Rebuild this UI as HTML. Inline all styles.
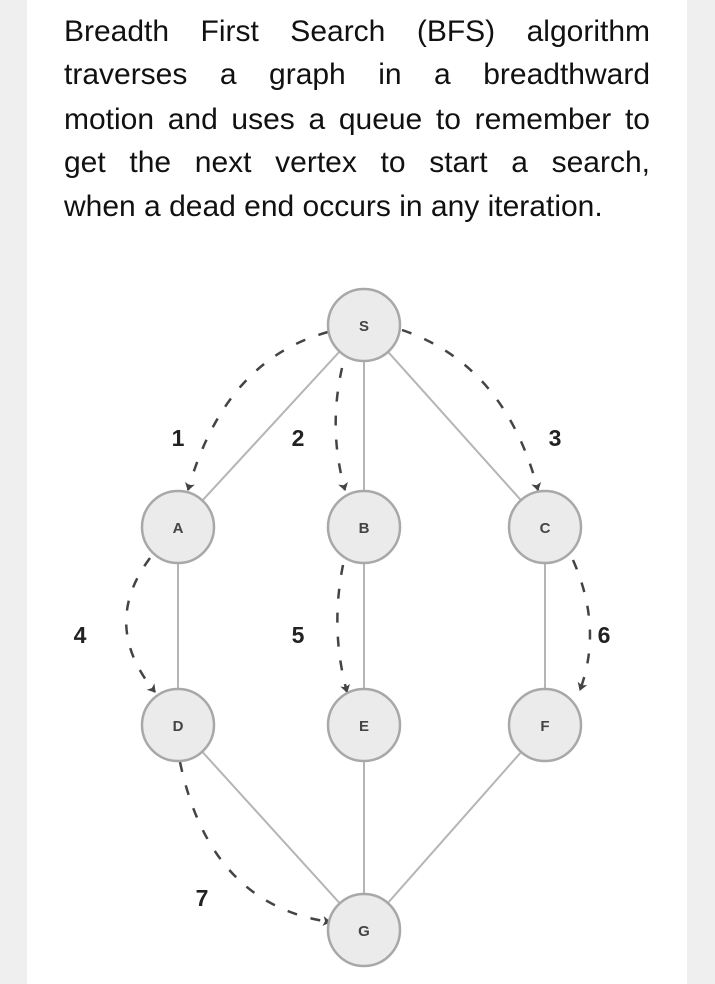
<!DOCTYPE html>
<html><head><style>
html,body{margin:0;padding:0;background:#efefef;}
.pg{position:absolute;left:27px;top:0;width:660px;height:984px;background:#fff}
.ln{position:absolute;left:64px;width:586px;font-family:"Liberation Sans",sans-serif;font-size:30px;color:#111;white-space:nowrap;text-align:justify;text-align-last:justify;line-height:36px}
svg{position:absolute;left:0;top:0}
</style></head><body>
<div class="pg"></div>
<div class="ln" style="top:14px">Breadth First Search (BFS) algorithm</div>
<div class="ln" style="top:57px">traverses a graph in a breadthward</div>
<div class="ln" style="top:102px">motion and uses a queue to remember to</div>
<div class="ln" style="top:145px">get the next vertex to start a search,</div>
<div class="ln" style="top:189px;text-align-last:left">when a dead end occurs in any iteration.</div>
<svg width="715" height="984" viewBox="0 0 715 984" xmlns="http://www.w3.org/2000/svg">
<defs>
<marker id="ar" markerWidth="10" markerHeight="10" refX="7" refY="5" orient="auto" markerUnits="userSpaceOnUse">
<path d="M0,0 L8,5 L0,10 L2,5 z" fill="#444"/>
</marker>
</defs>
<g stroke="#b5b5b5" stroke-width="2" fill="none">
<line x1="364" y1="325" x2="178" y2="527"/>
<line x1="364" y1="325" x2="364" y2="527"/>
<line x1="364" y1="325" x2="545" y2="527"/>
<line x1="178" y1="527" x2="178" y2="725"/>
<line x1="364" y1="527" x2="364" y2="725"/>
<line x1="545" y1="527" x2="545" y2="725"/>
<line x1="178" y1="725" x2="364" y2="930"/>
<line x1="364" y1="725" x2="364" y2="930"/>
<line x1="545" y1="725" x2="364" y2="930"/>
</g>
<g stroke="#444" stroke-width="2.5" fill="none" stroke-dasharray="10,14" marker-end="url(#ar)">
<path d="M328,332 Q225,360 188,490"/>
<path d="M342,368 Q328,430 345,490"/>
<path d="M402,330 Q505,365 538,490"/>
<path d="M150,558 Q100,625 155,692"/>
<path d="M343,565 Q330,630 347,692"/>
<path d="M573,560 Q603,628 580,690"/>
<path d="M180,762 Q210,905 330,922"/>
</g>
<g fill="#ebebeb" stroke="#a8a8a8" stroke-width="2.5">
<circle cx="364" cy="325" r="36"/>
<circle cx="178" cy="527" r="36"/>
<circle cx="364" cy="527" r="36"/>
<circle cx="545" cy="527" r="36"/>
<circle cx="178" cy="725" r="36"/>
<circle cx="364" cy="725" r="36"/>
<circle cx="545" cy="725" r="36"/>
<circle cx="364" cy="930" r="36"/>
</g>
<g font-family="Liberation Sans, sans-serif" font-size="15" font-weight="bold" fill="#444" text-anchor="middle">
<text x="364" y="331">S</text>
<text x="178" y="533">A</text>
<text x="364" y="533">B</text>
<text x="545" y="533">C</text>
<text x="178" y="731">D</text>
<text x="364" y="731">E</text>
<text x="545" y="731">F</text>
<text x="364" y="936">G</text>
</g>
<g font-family="Liberation Sans, sans-serif" font-size="23" font-weight="bold" fill="#222" text-anchor="middle">
<text x="178" y="446">1</text>
<text x="298" y="446">2</text>
<text x="555" y="446">3</text>
<text x="80" y="643">4</text>
<text x="298" y="643">5</text>
<text x="604" y="643">6</text>
<text x="202" y="906">7</text>
</g>
</svg>
</body></html>
